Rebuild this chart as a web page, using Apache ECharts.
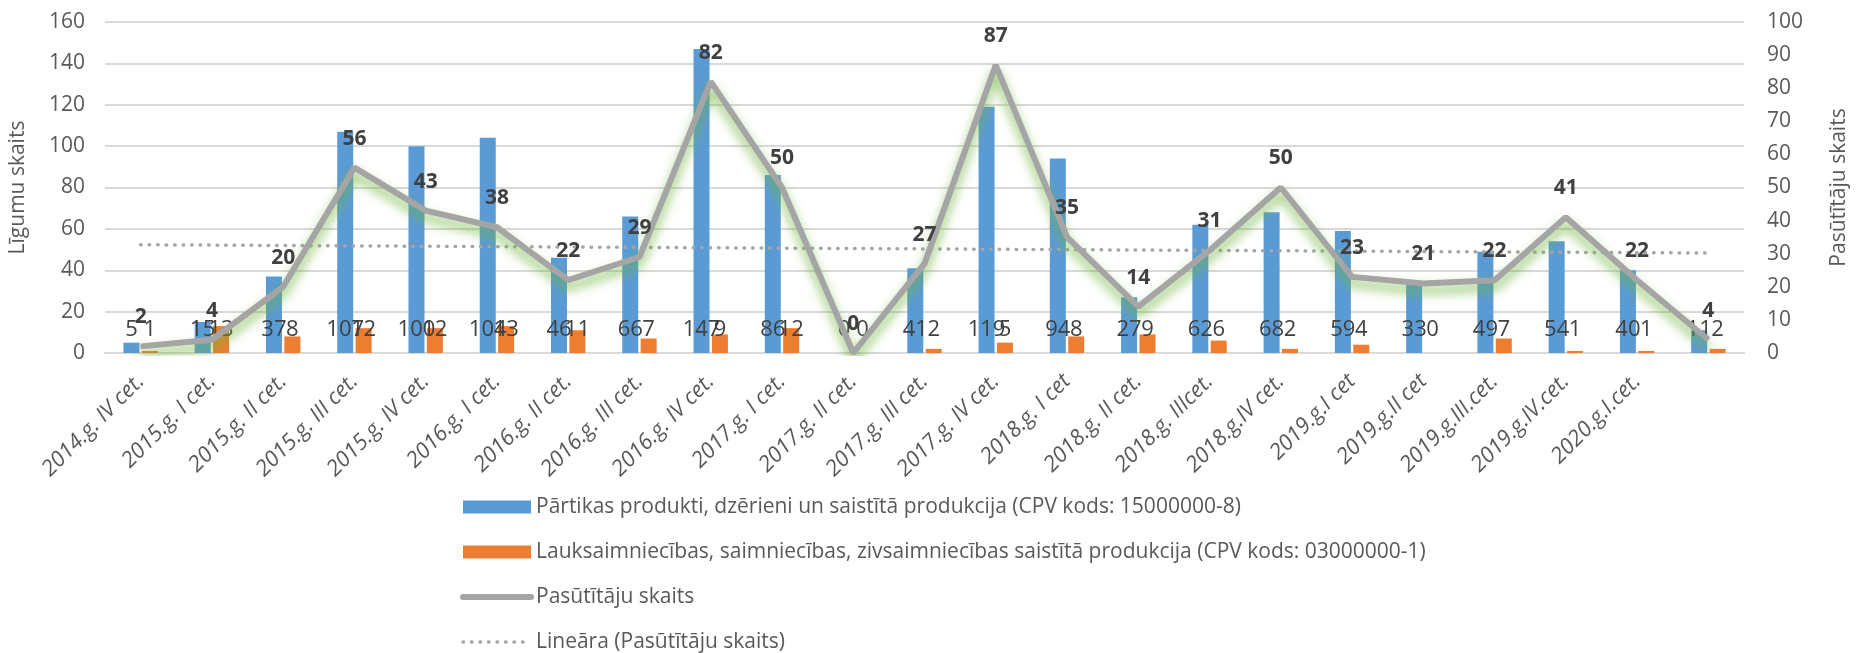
<!DOCTYPE html>
<html>
<head>
<meta charset="utf-8">
<script src="https://cdn.jsdelivr.net/npm/echarts@6/dist/echarts.min.js"></script>
<style>
html, body { margin: 0; padding: 0; background: #fff; }
#chart { width: 1858px; height: 653px; }
</style>
</head>
<body>
<div id="chart"></div>
<script>
// ceturkšņi (pēdējam nav nosaukuma)
var quarters = ['2014.g. IV cet.', '2015.g. I cet.', '2015.g. II cet.', '2015.g. III cet.', '2015.g. IV cet.',
  '2016.g. I cet.', '2016.g. II cet.', '2016.g. III cet.', '2016.g. IV cet.', '2017.g. I cet.',
  '2017.g. II cet.', '2017.g. III cet.', '2017.g. IV cet.', '2018.g. I cet', '2018.g. II cet.',
  '2018.g. IIIcet.', '2018.g.IV cet.', '2019.g.I cet', '2019.g.II cet', '2019.g.III.cet.',
  '2019.g.IV.cet.', '2020.g.I.cet.', ''];
var partikas = [5, 15, 37, 107, 100, 104, 46, 66, 147, 86, 0, 41, 119, 94, 27, 62, 68, 59, 33, 49, 54, 40, 11];
var lauksaimn = [1, 13, 8, 12, 12, 13, 11, 7, 9, 12, 0, 2, 5, 8, 9, 6, 2, 4, 0, 7, 1, 1, 2];
var pasutitaji = [2, 4, 20, 56, 43, 38, 22, 29, 82, 50, 0, 27, 87, 35, 14, 31, 50, 23, 21, 22, 41, 22, 4];
// lineārā tendence - sākuma un beigu vērtība
var trendStart = 32.7;
var trendEnd = 30.2;

var names = [
  'Pārtikas produkti, dzērieni un saistītā produkcija (CPV kods: 15000000-8)',
  'Lauksaimniecības, saimniecības, zivsaimniecības saistītā produkcija (CPV kods: 03000000-1)',
  'Pasūtītāju skaits',
  'Lineāra (Pasūtītāju skaits)'
];

var font = 'Open Sans';
var myChart = echarts.init(document.getElementById('chart'));

var barLabel = {
  show: true,
  position: 'insideBottom',
  distance: 12,
  color: '#404040',
  fontFamily: font,
  fontSize: 22
};

var option = {
  animation: false,
  textStyle: { fontFamily: font },
  grid: { left: 104, right: 101, top: 22, bottom: 300 },
  legend: {
    orient: 'vertical',
    left: 460,
    top: 496,
    padding: 0,
    itemWidth: 68,
    itemHeight: 13,
    itemGap: 23,
    textStyle: { color: '#595959', fontSize: 21, lineHeight: 22, fontFamily: font },
    data: [
      { name: names[0], icon: 'rect' },
      { name: names[1], icon: 'rect' },
      { name: names[2], itemStyle: { opacity: 0 },
        lineStyle: { width: 6, cap: 'round', shadowBlur: 0, shadowOffsetY: 0, shadowColor: 'transparent' } },
      { name: names[3], itemStyle: { opacity: 0 },
        lineStyle: { width: 3.5, type: [0.5, 8], cap: 'round' } }
    ]
  },
  xAxis: {
    type: 'category',
    data: quarters,
    boundaryGap: true,
    axisLine: { lineStyle: { color: '#d9d9d9', width: 2 } },
    axisTick: { show: false },
    axisLabel: {
      interval: 0,
      rotate: 45,
      margin: 25,
      color: '#595959',
      fontStyle: 'italic',
      fontSize: 22,
      fontFamily: font
    }
  },
  yAxis: [
    {
      type: 'value',
      min: 0, max: 160, interval: 20,
      name: 'Līgumu skaits',
      nameLocation: 'middle',
      nameGap: 76,
      nameTextStyle: { color: '#595959', fontSize: 21, fontFamily: font },
      axisLabel: { color: '#595959', fontSize: 21, margin: 20, fontFamily: font },
      splitLine: { lineStyle: { color: '#d9d9d9', width: 2 } }
    },
    {
      type: 'value',
      min: 0, max: 100, interval: 10,
      name: 'Pasūtītāju skaits',
      nameLocation: 'middle',
      nameRotate: 90,
      nameGap: 85,
      nameTextStyle: { color: '#595959', fontSize: 21, fontFamily: font },
      axisLabel: { color: '#595959', fontSize: 21, margin: 23, fontFamily: font },
      splitLine: { show: false }
    }
  ],
  series: [
    {
      name: names[0],
      type: 'bar',
      data: partikas,
      barWidth: 16,
      barGap: '15%',
      itemStyle: { color: '#5b9bd5' },
      label: barLabel,
      z: 2
    },
    {
      name: names[1],
      type: 'bar',
      data: lauksaimn,
      barWidth: 16,
      barGap: '15%',
      itemStyle: { color: '#ed7d31' },
      label: barLabel,
      z: 2
    },
    {
      name: names[2],
      type: 'line',
      yAxisIndex: 1,
      data: pasutitaji,
      symbol: 'circle',
      symbolSize: 1,
      itemStyle: { color: '#a5a5a5' },
      lineStyle: {
        color: '#a5a5a5',
        width: 6,
        shadowColor: 'rgba(112,180,60,0.85)',
        shadowBlur: 11,
        shadowOffsetY: 7
      },
      label: {
        show: true,
        position: 'top',
        distance: 18,
        color: '#404040',
        fontWeight: 'bold',
        fontSize: 21,
        fontFamily: font
      },
      z: 4
    },
    {
      name: names[3],
      type: 'line',
      yAxisIndex: 1,
      data: [[0, trendStart], [quarters.length - 1, trendEnd]],
      symbol: 'none',
      itemStyle: { color: '#a5a5a5' },
      lineStyle: { color: '#a5a5a5', width: 3.5, type: [0.5, 8], cap: 'round' },
      z: 3
    }
  ]
};
myChart.setOption(option);
</script>
</body>
</html>
